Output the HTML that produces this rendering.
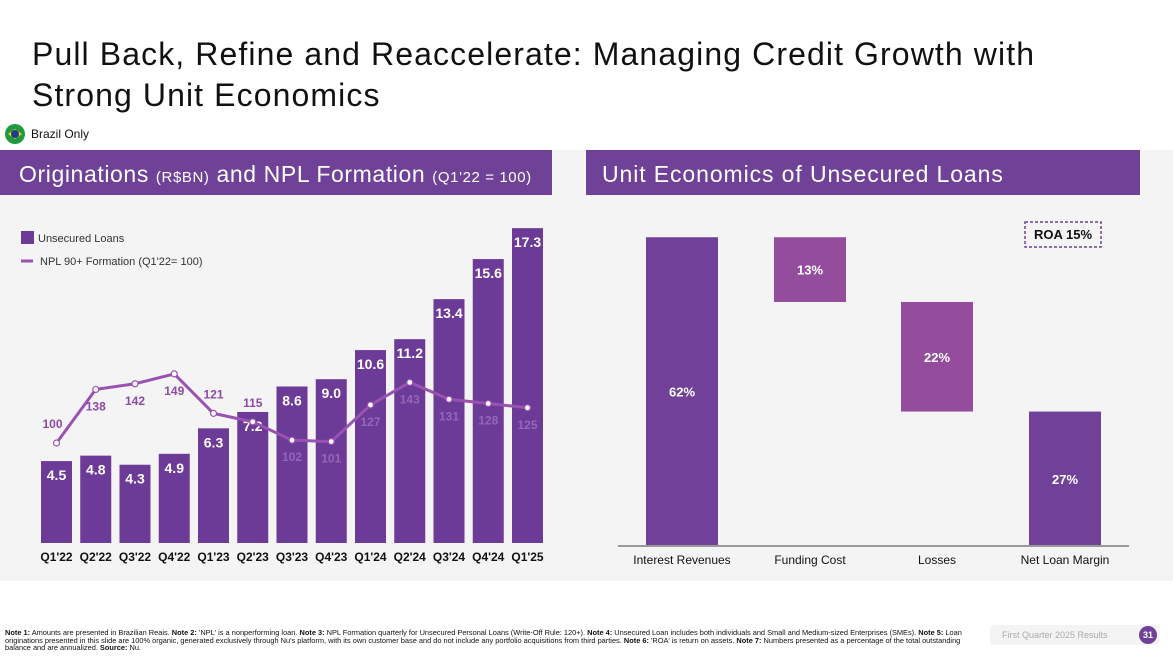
<!DOCTYPE html>
<html><head><meta charset="utf-8"><style>
body{margin:0;width:1173px;height:660px;background:#fff;font-family:"Liberation Sans",sans-serif;overflow:hidden;position:relative}
.abs{position:absolute}
</style></head><body>
<div class="abs" style="left:32px;top:34px;font-size:32px;line-height:41px;color:#111;letter-spacing:1.1px">Pull Back, Refine and Reaccelerate: Managing Credit Growth with<br>Strong Unit Economics</div>
<div class="abs" style="left:5px;top:124px;width:20px;height:20px;border-radius:50%;background:#1f9a3c"><div style="position:absolute;left:3px;top:5px;width:14px;height:10px;background:#f4d020;clip-path:polygon(50% 0,100% 50%,50% 100%,0 50%)"></div><div style="position:absolute;left:6px;top:6px;width:8px;height:8px;border-radius:50%;background:#213a8f"></div></div>
<div class="abs" style="left:31px;top:127px;font-size:12px;color:#111">Brazil Only</div>
<div class="abs" style="left:0;top:150px;width:1173px;height:431px;background:#f4f4f4"></div>
<div class="abs" style="left:0;top:150px;width:552px;height:45px;background:#6f4297;color:#fff;font-size:23px;line-height:48px;padding-left:19px;box-sizing:border-box;letter-spacing:0.6px;white-space:nowrap">Originations <span style="font-size:15px">(R$BN)</span> and NPL Formation <span style="font-size:15px">(Q1'22 = 100)</span></div>
<div class="abs" style="left:586px;top:150px;width:554px;height:45px;background:#6f4297;color:#fff;font-size:23px;line-height:48px;padding-left:16px;box-sizing:border-box;letter-spacing:0.9px">Unit Economics of Unsecured Loans</div>
<svg class="abs" style="left:0;top:0" width="1173" height="660" id="svg"></svg>
<div class="abs" style="left:5px;top:629px;width:978px;font-size:7.4px;line-height:7.5px;color:#111"><b>Note 1:</b> Amounts are presented in Brazilian Reais. <b>Note 2:</b> 'NPL' is a nonperforming loan. <b>Note 3:</b> NPL Formation quarterly for Unsecured Personal Loans (Write-Off Rule: 120+). <b>Note 4:</b> Unsecured Loan includes both individuals and Small and Medium-sized Enterprises (SMEs). <b>Note 5:</b> Loan originations presented in this slide are 100% organic, generated exclusively through Nu's platform, with its own customer base and do not include any portfolio acquisitions from third parties. <b>Note 6:</b> 'ROA' is return on assets. <b>Note 7:</b> Numbers presented as a percentage of the total outstanding balance and are annualized. <b>Source:</b> Nu.</div>
<div class="abs" style="left:990px;top:625px;width:170px;height:20px;background:#f4f4f4;border-radius:4px;font-size:9px;line-height:20px;color:#aaa;padding-left:12px;box-sizing:border-box">First Quarter 2025 Results</div>
<div class="abs" style="left:1139px;top:626px;width:18px;height:18px;border-radius:50%;background:#6f4297;color:#fff;font-size:9px;line-height:18px;text-align:center;font-weight:bold">31</div>
<script>
const quarters=["Q1'22","Q2'22","Q3'22","Q4'22","Q1'23","Q2'23","Q3'23","Q4'23","Q1'24","Q2'24","Q3'24","Q4'24","Q1'25"];
const loans=[4.5,4.8,4.3,4.9,6.3,7.2,8.6,9.0,10.6,11.2,13.4,15.6,17.3];
const npl=[100,138,142,149,121,115,102,101,127,143,131,128,125];
const nplLabelPos=["above","below","below","below","above","above","below","below","below","below","below","below","below"];
const ueCats=["Interest Revenues","Funding Cost","Losses","Net Loan Margin"];
const ueValues=[62,-13,-22,27];
const roa="ROA 15%";
const NS="http://www.w3.org/2000/svg",svg=document.getElementById('svg');
function mk(t,a,txt){const e=document.createElementNS(NS,t);for(const k in a)e.setAttribute(k,a[k]);if(txt!==undefined)e.textContent=txt;svg.appendChild(e);return e;}
const x0=56.5,pitch=39.25,bw=31,base=543;
const xL=i=>x0+i*pitch, yB=v=>base-v*18.2, yN=v=>443-(v-100)*1.41;
let r=mk('rect',{x:21,y:231,width:13,height:13,fill:'#6c3a97'});

let t=mk('text',{x:38,y:242,'font-size':11,fill:'#333'},'Unsecured Loans');

let l=mk('line',{x1:21,x2:33,y1:261,y2:261,stroke:'#9a52b2','stroke-width':3});

t=mk('text',{x:40,y:265,'font-size':11,fill:'#333'},"NPL 90+ Formation (Q1'22= 100)");

loans.forEach((v,i)=>{
 const b=mk('rect',{x:xL(i)-bw/2,y:yB(v),width:bw,height:base-yB(v),fill:'#6c3a97'});
 
 const tl=mk('text',{x:xL(i),y:yB(v)+19,'font-size':14,'font-weight':'bold',fill:'#fff','text-anchor':'middle'},v.toFixed(1));
 
 const ql=mk('text',{x:xL(i),y:561,'font-size':12,'font-weight':'bold',fill:'#111','text-anchor':'middle'},quarters[i]);
 
});
const pl=mk('polyline',{points:npl.map((v,i)=>xL(i)+','+yN(v)).join(' '),fill:'none',stroke:'#9a52b2','stroke-width':3});

npl.forEach((v,i)=>{
 const c=mk('circle',{cx:xL(i),cy:yN(v),r:3,fill:'#fff',stroke:'#9a52b2','stroke-width':1.2});
 
 const above=nplLabelPos[i]==='above';
 const y=above?yN(v)-15:yN(v)+21;
 const onBar=!above && y>yB(loans[i]);
 const tl=mk('text',{x:xL(i)+(i===0?-4:0),y:y,'font-size':12,'font-weight':'bold',fill:onBar?'#9367b9':'#8e4aa8','text-anchor':'middle'},v);
 
});
const rc=[682,810,937,1065],rw=72,rbase=546,ys=v=>v*4.98;
let run=0;
ueValues.forEach((v,i)=>{
 let top,bot;
 if(i===ueValues.length-1){top=rbase-ys(v);bot=rbase;}
 else if(v>=0){top=rbase-ys(run+v);bot=rbase-ys(run);run+=v;}
 else{top=rbase-ys(run);bot=rbase-ys(run+v);run+=v;}
 const col=(v<0)?'#944c9c':'#714199';
 const b=mk('rect',{x:rc[i]-rw/2,y:top,width:rw,height:bot-top,fill:col});
 
 const tl=mk('text',{x:rc[i],y:(top+bot)/2+5,'font-size':13,'font-weight':'bold',fill:'#fff','text-anchor':'middle'},Math.abs(v)+'%');
 
 const cl=mk('text',{x:rc[i],y:564,'font-size':12,fill:'#111','text-anchor':'middle'},ueCats[i]);
 
});
const ax=mk('line',{x1:618,x2:1129,y1:rbase,y2:rbase,stroke:'#999','stroke-width':2});

const rb=mk('rect',{x:1025,y:222,width:76,height:25,fill:'none',stroke:'#6f4297','stroke-width':1.5,'stroke-dasharray':'3,2'});

const rt=mk('text',{x:1063,y:239,'font-size':13,'font-weight':'bold',fill:'#111','text-anchor':'middle'},roa);

</script>
</body></html>
